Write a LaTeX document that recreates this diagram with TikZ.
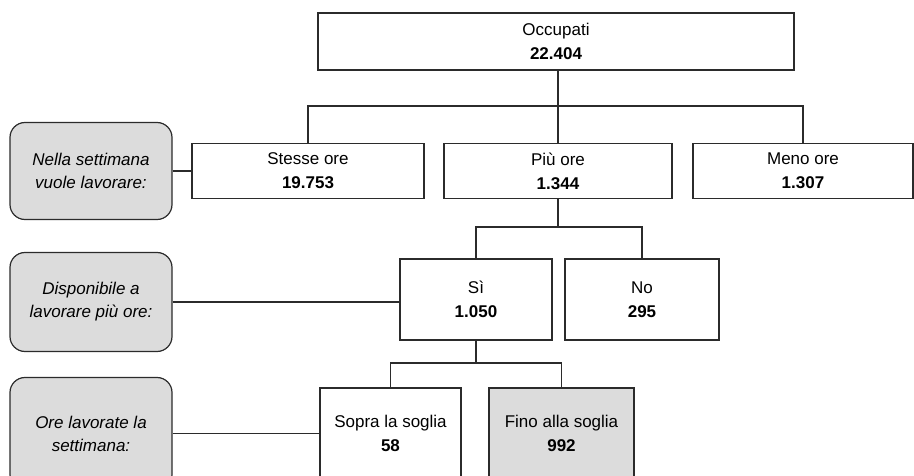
\documentclass[tikz,border=0pt]{standalone}
\usepackage{fontspec}
\setmainfont{Liberation Sans}
\usepackage{tikz}
\usetikzlibrary{positioning,calc}
\definecolor{ink}{HTML}{2B2B2B}
\definecolor{shade}{HTML}{DCDCDC}
\tikzset{
  cell/.style={rectangle, draw=ink, fill=white, line width=1.2pt, align=center,
               inner sep=0pt, font=\fontsize{17}{24}\selectfont},
  cellgrey/.style={cell, fill=shade},
  tag/.style={rectangle, rounded corners=15pt, draw=ink, fill=shade, line width=1.2pt,
              align=center, inner sep=0pt, minimum width=162pt,
              font=\fontsize{17}{23}\selectfont\itshape},
  link/.style={draw=ink, line width=1.2pt}
}
\begin{document}
\begin{tikzpicture}[x=1pt, y=-1pt]
 \clip (0,0) rectangle (914,476);
 % levels of the tree
 \node[cell, minimum width=476pt, minimum height=57pt] (occ) at (556,41.5) {Occupati\\\textbf{22.404}};
 \node[cell, minimum width=232pt, minimum height=55pt] (stesse) at (308,171) {Stesse ore\\\textbf{19.753}};
 \node[cell, minimum width=228pt, minimum height=55pt] (piu) at (558,171) {Più ore\\\textbf{1.344}};
 \node[cell, minimum width=220pt, minimum height=55pt] (meno) at (803,171) {Meno ore\\\textbf{1.307}};
 \node[cell, minimum width=152pt, minimum height=81pt] (si) at (476,299.5) {Sì\\\textbf{1.050}};
 \node[cell, minimum width=154pt, minimum height=81pt] (no) at (642,299.5) {No\\\textbf{295}};
 \node[cell, minimum width=141pt, minimum height=91pt] (sopra) at (390.5,433.5) {Sopra la soglia\\\textbf{58}};
 \node[cellgrey, minimum width=145pt, minimum height=91pt] (fino) at (561.5,433.5) {Fino alla soglia\\\textbf{992}};
 % side labels
 \node[tag, minimum height=97pt] (tagore) at (91,171) {Nella settimana\\vuole lavorare:};
 \node[tag, minimum height=99pt] (tagdisp) at (91,302) {Disponibile a\\lavorare più ore:};
 \node[tag, minimum height=112pt] (taglav) at (91,433.5) {Ore lavorate la\\settimana:};
 \coordinate (bus1) at (0,106);
 \coordinate (bus2) at (0,227);
 \coordinate (bus3) at (0,363);
 % connectors
 \draw[link] (occ.south -| piu.north) -- (piu.north);
 \draw[link] (stesse.north) -- (stesse.north |- bus1) -| (meno.north);
 \draw[link] (piu.south) -- (piu.south |- bus2);
 \draw[link] (si.north) -- (si.north |- bus2) -| (no.north);
 \draw[link] (si.south) -- (si.south |- bus3);
 \draw[link] (sopra.north) -- (sopra.north |- bus3) -| (fino.north);
 \draw[link] (tagore.east) -- (stesse.west);
 \draw[link] (tagdisp.east) -- (tagdisp.east -| si.west);
 \draw[link] (taglav.east) -- (sopra.west);
\end{tikzpicture}
\end{document}
